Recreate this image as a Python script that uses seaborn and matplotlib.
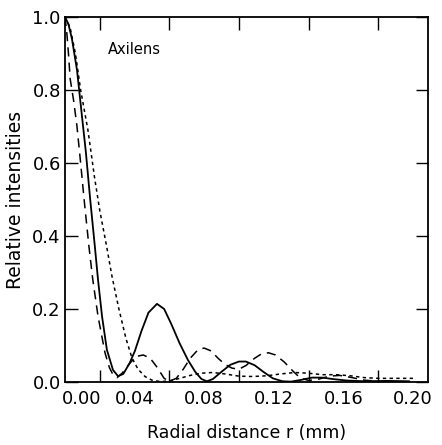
import numpy as np
import pandas as pd
import seaborn as sns
import matplotlib.pyplot as plt
import matplotlib.transforms as mtransforms

# Radial intensity profiles
r_solid = [0, 0.002, 0.004, 0.0069, 0.0095, 0.012, 0.0145, 0.0172, 0.019, 0.0213,
           0.0241, 0.0276, 0.0305, 0.0335, 0.037, 0.0402, 0.044, 0.048, 0.0529, 0.057,
           0.061, 0.066, 0.0707, 0.075, 0.0785, 0.0816, 0.085, 0.09, 0.095, 0.1,
           0.104, 0.109, 0.114, 0.1195, 0.125, 0.13, 0.136, 0.142, 0.148, 0.154,
           0.162, 0.172, 0.185, 0.198]
i_solid = [1.0, 0.98, 0.94, 0.855, 0.74, 0.63, 0.5, 0.37, 0.28, 0.18,
           0.088, 0.033, 0.016, 0.022, 0.05, 0.085, 0.14, 0.19, 0.214, 0.2,
           0.16, 0.105, 0.06, 0.027, 0.008, 0.002, 0.008, 0.028, 0.047, 0.056,
           0.056, 0.046, 0.028, 0.01, 0.002, 0.001, 0.006, 0.012, 0.012, 0.008,
           0.004, 0.002, 0.003, 0.002]

r_dash = [0, 0.001, 0.002, 0.003, 0.005, 0.0069, 0.009, 0.011, 0.0138, 0.016,
          0.019, 0.023, 0.0255, 0.0276, 0.03, 0.033, 0.037, 0.041, 0.045, 0.049,
          0.053, 0.057, 0.06, 0.064, 0.068, 0.072, 0.0764, 0.08, 0.084, 0.088,
          0.092, 0.096, 0.1, 0.104, 0.109, 0.113, 0.117, 0.121, 0.126, 0.131,
          0.135, 0.14, 0.146, 0.152, 0.158, 0.165, 0.172, 0.18]
i_dash = [1.0, 0.96, 0.9, 0.83, 0.77, 0.70, 0.6, 0.5, 0.37, 0.28,
          0.18, 0.08, 0.04, 0.02, 0.012, 0.025, 0.05, 0.07, 0.074, 0.065,
          0.04, 0.01, 0.002, 0.01, 0.035, 0.065, 0.088, 0.093, 0.085, 0.065,
          0.048, 0.038, 0.035, 0.045, 0.065, 0.077, 0.08, 0.074, 0.055, 0.03,
          0.012, 0.004, 0.008, 0.016, 0.018, 0.012, 0.005, 0.002]

r_dot = [0, 0.003, 0.006, 0.009, 0.0132, 0.017, 0.02, 0.024, 0.027, 0.031,
         0.035, 0.0385, 0.042, 0.046, 0.05, 0.055, 0.06, 0.066, 0.072, 0.078,
         0.085, 0.092, 0.1, 0.108, 0.116, 0.124, 0.132, 0.14, 0.148, 0.156,
         0.164, 0.172, 0.18, 0.19, 0.2]
i_dot = [1.0, 0.97, 0.9, 0.8, 0.69, 0.56, 0.47, 0.37, 0.29, 0.2,
         0.12, 0.066, 0.035, 0.015, 0.005, 0.001, 0.003, 0.01, 0.018, 0.024,
         0.026, 0.022, 0.016, 0.015, 0.017, 0.022, 0.026, 0.024, 0.02, 0.02,
         0.017, 0.012, 0.01, 0.01, 0.01]

xticks_major = [0.00, 0.04, 0.08, 0.12, 0.16, 0.20]
xtick_labels = ["0.00", "0.04", "0.08", "0.12", "0.16", "0.20"]
yticks = [0.0, 0.2, 0.4, 0.6, 0.8, 1.0]
ytick_labels = ["0.0", "0.2", "0.4", "0.6", "0.8", "1.0"]

sns.set_style("ticks")
plt.rcParams['font.family'] = ['DejaVu Sans']
plt.rcParams['text.color'] = 'black'
plt.rcParams['axes.labelcolor'] = 'black'

fig = plt.figure(figsize=(4.42, 4.45), dpi=100)
ax = fig.add_axes([0.147, 0.1416, 0.821, 0.8204])

sns.lineplot(x=r_solid, y=i_solid, ax=ax, color="black", lw=1.3, sort=False)
sns.lineplot(x=r_dash, y=i_dash, ax=ax, color="black", lw=1.1, sort=False,
             linestyle=(0, (6, 4)))
sns.lineplot(x=r_dot, y=i_dot, ax=ax, color="black", lw=1.1, sort=False,
             linestyle=(0, (2.2, 2.2)))

ax.set_xlim(0, 0.2086)
ax.set_ylim(0, 1.0)

ax.set_xticks(xticks_major)
ax.set_xticklabels(xtick_labels, fontsize=13)
ax.set_xticks(np.arange(0.02, 0.201, 0.02), minor=True)
ax.set_yticks(yticks)
ax.set_yticklabels(ytick_labels, fontsize=13)

ax.tick_params(axis="x", which="both", direction="in", length=9, width=1.0,
               top=True, bottom=True, pad=6, colors="black")
ax.tick_params(axis="x", which="major", length=0)
ax.tick_params(axis="y", which="both", direction="in", length=9, width=1.0,
               left=True, right=True, pad=3, colors="black")

# shift the corner label a bit right, as in the original
offset = mtransforms.ScaledTranslation(0.17, 0, fig.dpi_scale_trans)
lbl0 = ax.get_xticklabels()[0]
lbl0.set_transform(lbl0.get_transform() + offset)

for s in ax.spines.values():
    s.set_linewidth(1.3)
    s.set_color("black")

ax.text(0.0245, 0.91, "Axilens", fontsize=10.5, va="center", color="black")
ax.set_xlabel("Radial distance r (mm)", fontsize=12.5, labelpad=11)
ax.set_ylabel("Relative intensities", fontsize=13.5, labelpad=5)

fig.savefig("out.png", dpi=100)
